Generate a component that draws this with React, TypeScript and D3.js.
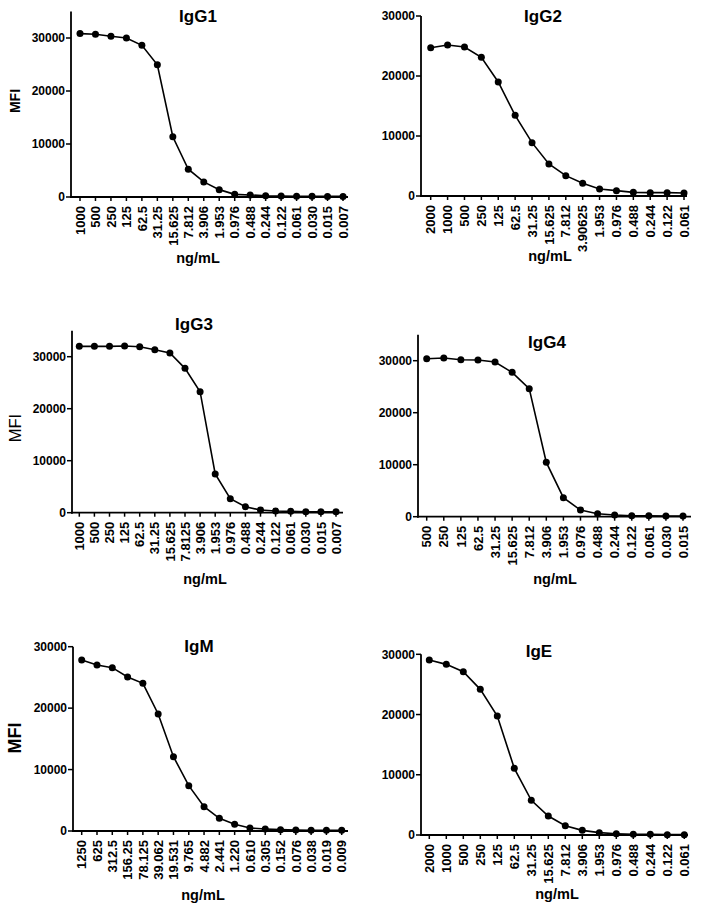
import React from 'react';
import * as d3 from 'd3';

// concentrations (ng/mL) and MFI
const igg1Conc = ["1000", "500", "250", "125", "62.5", "31.25", "15.625", "7.812", "3.906", "1.953", "0.976", "0.488", "0.244", "0.122", "0.061", "0.030", "0.015", "0.007"];
const igg1Mfi = [30830, 30700, 30320, 30000, 28620, 24950, 11370, 5240, 2840, 1390, 500, 380, 250, 190, 130, 130, 110, 110];

const igg2Conc = ["2000", "1000", "500", "250", "125", "62.5", "31.25", "15.625", "7.812", "3.90625", "1.953", "0.976", "0.488", "0.244", "0.122", "0.061"];
const igg2Mfi = [24720, 25170, 24830, 23110, 19000, 13440, 8890, 5330, 3390, 2110, 1170, 890, 610, 560, 560, 500];

const igg3Conc = ["1000", "500", "250", "125", "62.5", "31.25", "15.625", "7.8125", "3.906", "1.953", "0.976", "0.488", "0.244", "0.122", "0.061", "0.030", "0.015", "0.007"];
const igg3Mfi = [31990, 31990, 31990, 32050, 31920, 31350, 30700, 27760, 23270, 7440, 2690, 1150, 510, 320, 260, 190, 190, 190];

const igg4Conc = ["500", "250", "125", "62.5", "31.25", "15.625", "7.812", "3.906", "1.953", "0.976", "0.488", "0.244", "0.122", "0.061", "0.030", "0.015"];
const igg4Mfi = [30380, 30510, 30190, 30130, 29740, 27760, 24620, 10450, 3650, 1280, 580, 320, 190, 190, 130, 130];

const igmConc = ["1250", "625", "312.5", "156.25", "78.125", "39.062", "19.531", "9.765", "4.882", "2.441", "1.220", "0.610", "0.305", "0.152", "0.076", "0.038", "0.019", "0.009"];
const igmMfi = [27830, 27020, 26590, 25070, 24040, 19050, 12100, 7380, 3960, 2060, 1090, 490, 330, 220, 160, 110, 110, 110];

const igeConc = ["2000", "1000", "500", "250", "125", "62.5", "31.25", "15.625", "7.812", "3.906", "1.953", "0.976", "0.488", "0.244", "0.122", "0.061"];
const igeMfi = [29050, 28330, 27120, 24180, 19760, 11070, 5760, 3150, 1550, 770, 390, 220, 110, 110, 55, 55];

const yTicks = [0, 10000, 20000, 30000];

type Panel = {
  title: string;
  conc: string[];
  mfi: number[];
  yMax: number;
  axisX: number; y0: number; y30k: number;
  xFirst: number; xLast: number; xEnd: number;
  titleX: number; titleY: number;
  xLabelX: number; xLabelY: number;
  yLabel?: { x: number; y: number; size: number; weight: string };
};

const panels: Panel[] = [
  { title: "IgG1", conc: igg1Conc, mfi: igg1Mfi, yMax: 35000,
    axisX: 71, y0: 197, y30k: 38, xFirst: 80, xLast: 343, xEnd: 348,
    titleX: 198, titleY: 22, xLabelX: 198, xLabelY: 263,
    yLabel: { x: 15, y: 101, size: 14, weight: "bold" } },
  { title: "IgG2", conc: igg2Conc, mfi: igg2Mfi, yMax: 30000,
    axisX: 421, y0: 196, y30k: 16, xFirst: 430.7, xLast: 684, xEnd: 687,
    titleX: 543, titleY: 22, xLabelX: 550, xLabelY: 261 },
  { title: "IgG3", conc: igg3Conc, mfi: igg3Mfi, yMax: 35000,
    axisX: 72, y0: 512.7, y30k: 356.7, xFirst: 79.3, xLast: 336, xEnd: 343,
    titleX: 194, titleY: 330, xLabelX: 205, xLabelY: 584,
    yLabel: { x: 15, y: 428, size: 16.5, weight: "normal" } },
  { title: "IgG4", conc: igg4Conc, mfi: igg4Mfi, yMax: 35000,
    axisX: 418, y0: 516.7, y30k: 360.7, xFirst: 426.7, xLast: 683, xEnd: 691,
    titleX: 547, titleY: 348, xLabelX: 555, xLabelY: 584 },
  { title: "IgM", conc: igmConc, mfi: igmMfi, yMax: 30000,
    axisX: 73, y0: 831, y30k: 646.7, xFirst: 81.7, xLast: 341.7, xEnd: 348,
    titleX: 199, titleY: 652, xLabelX: 203, xLabelY: 900,
    yLabel: { x: 15, y: 738, size: 18, weight: "bold" } },
  { title: "IgE", conc: igeConc, mfi: igeMfi, yMax: 30000,
    axisX: 421, y0: 835, y30k: 654.3, xFirst: 429.3, xLast: 684.3, xEnd: 688,
    titleX: 539, titleY: 657, xLabelX: 557, xLabelY: 899 },
];

const FONT = "'Liberation Sans', Arial, sans-serif";

const DosePanel: React.FC<{ p: Panel }> = ({ p }) => {
  const y = d3.scaleLinear().domain([0, 30000]).range([p.y0, p.y30k]);
  const x = d3.scalePoint<number>()
    .domain(d3.range(p.conc.length))
    .range([p.xFirst, p.xLast]);
  const line = d3.line<number>()
    .x((_, i) => x(i)!)
    .y(d => y(d));
  const top = y(p.yMax);

  return (
    <g fontFamily={FONT} fill="#000">
      <text x={p.titleX} y={p.titleY} textAnchor="middle" fontSize={17} fontWeight="bold">{p.title}</text>
      {p.yLabel && (
        <text transform={`translate(${p.yLabel.x},${p.yLabel.y}) rotate(-90)`} textAnchor="middle"
          dy="0.35em" fontSize={p.yLabel.size} fontWeight={p.yLabel.weight}>MFI</text>
      )}
      {/* y axis */}
      <line x1={p.axisX} x2={p.axisX} y1={top} y2={p.y0 + 1} stroke="#000" strokeWidth={1.8} />
      {yTicks.map(t => (
        <g key={t}>
          <line x1={p.axisX - 5} x2={p.axisX} y1={y(t)} y2={y(t)} stroke="#000" strokeWidth={1.5} />
          <text x={p.axisX - 6} y={y(t)} dy="0.36em" textAnchor="end" fontSize={12} fontWeight="bold">{t}</text>
        </g>
      ))}
      {/* x axis */}
      <line x1={p.axisX - 1} x2={p.xEnd} y1={p.y0} y2={p.y0} stroke="#000" strokeWidth={1.8} />
      {p.conc.map((c, i) => (
        <g key={i}>
          <line x1={x(i)} x2={x(i)} y1={p.y0} y2={p.y0 + 4} stroke="#000" strokeWidth={1.5} />
          <text transform={`translate(${x(i)},${p.y0 + 9}) rotate(-90)`} dy="0.36em" textAnchor="end"
            fontSize={13} fontWeight="bold">{c}</text>
        </g>
      ))}
      <text x={p.xLabelX} y={p.xLabelY} textAnchor="middle" fontSize={14.5} fontWeight="bold">ng/mL</text>
      <path d={line(p.mfi) ?? ""} fill="none" stroke="#000" strokeWidth={1.6} />
      {p.mfi.map((v, i) => (
        <circle key={i} cx={x(i)} cy={y(v)} r={3.5} fill="#000" />
      ))}
    </g>
  );
};

const App: React.FC = () => (
  <svg width={701} height={912} viewBox="0 0 701 912"
    style={{ position: 'absolute', left: 0, top: 0, background: '#fff' }}>
    <rect width={701} height={912} fill="#fff" />
    {panels.map(p => <DosePanel key={p.title} p={p} />)}
  </svg>
);

export default App;
